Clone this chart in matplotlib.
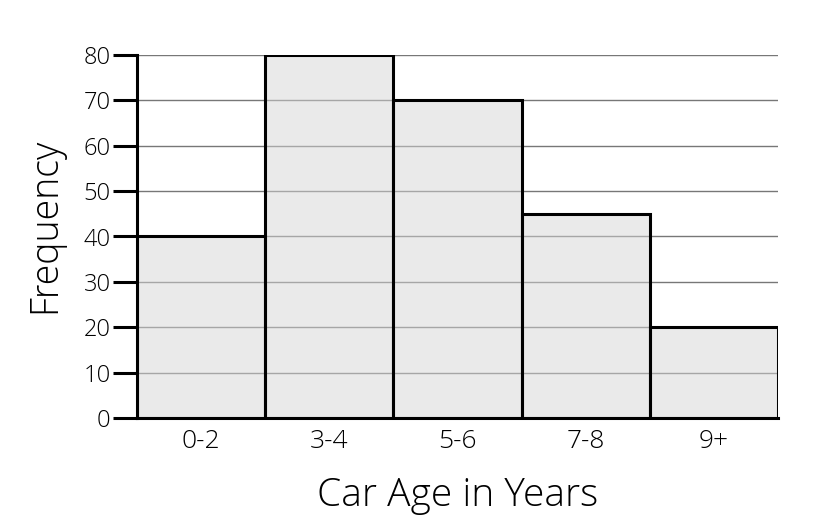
import matplotlib.pyplot as plt
import numpy as np

# data
age_groups = ['0-2', '3-4', '5-6', '7-8', '9+']
frequency = [40, 80, 70, 45, 20]
y_ticks = [0, 10, 20, 30, 40, 50, 60, 70, 80]

plt.rcParams['font.family'] = ['Open Sans', 'DejaVu Sans']

fig = plt.figure(figsize=(8.16, 5.32), dpi=100)
ax = fig.add_axes([137 / 816, 114 / 532, 641 / 816, 363 / 532])

x = np.arange(len(age_groups))
ax.bar(x, frequency, width=1.0, facecolor=(0.84, 0.84, 0.84, 0.5),
       edgecolor='black', linewidth=2.2, zorder=3)

ax.set_xlim(-0.5, len(age_groups) - 0.5)
ax.set_ylim(0, 80)
ax.set_yticks(y_ticks)
ax.set_xticks(x)
ax.set_xticklabels(age_groups, fontsize=19, fontweight='light')
for lbl in ax.get_yticklabels():
    lbl.set_fontweight('light')
ax.tick_params(axis='y', length=17, width=2.2, pad=2, labelsize=17)
ax.tick_params(axis='x', length=0, pad=8)

ax.yaxis.grid(True, color='#777777', linewidth=1.0, zorder=1)
ax.set_axisbelow(True)

for s in ['top', 'right']:
    ax.spines[s].set_visible(False)
ax.spines['left'].set_linewidth(2.2)
ax.spines['bottom'].set_linewidth(2.2)

ax.set_xlabel('Car Age in Years', fontsize=28, fontweight='light', labelpad=16)
ax.set_ylabel('Frequency', fontsize=27, fontweight='light', labelpad=14, y=0.53)

fig.savefig('out.png', dpi=100)
